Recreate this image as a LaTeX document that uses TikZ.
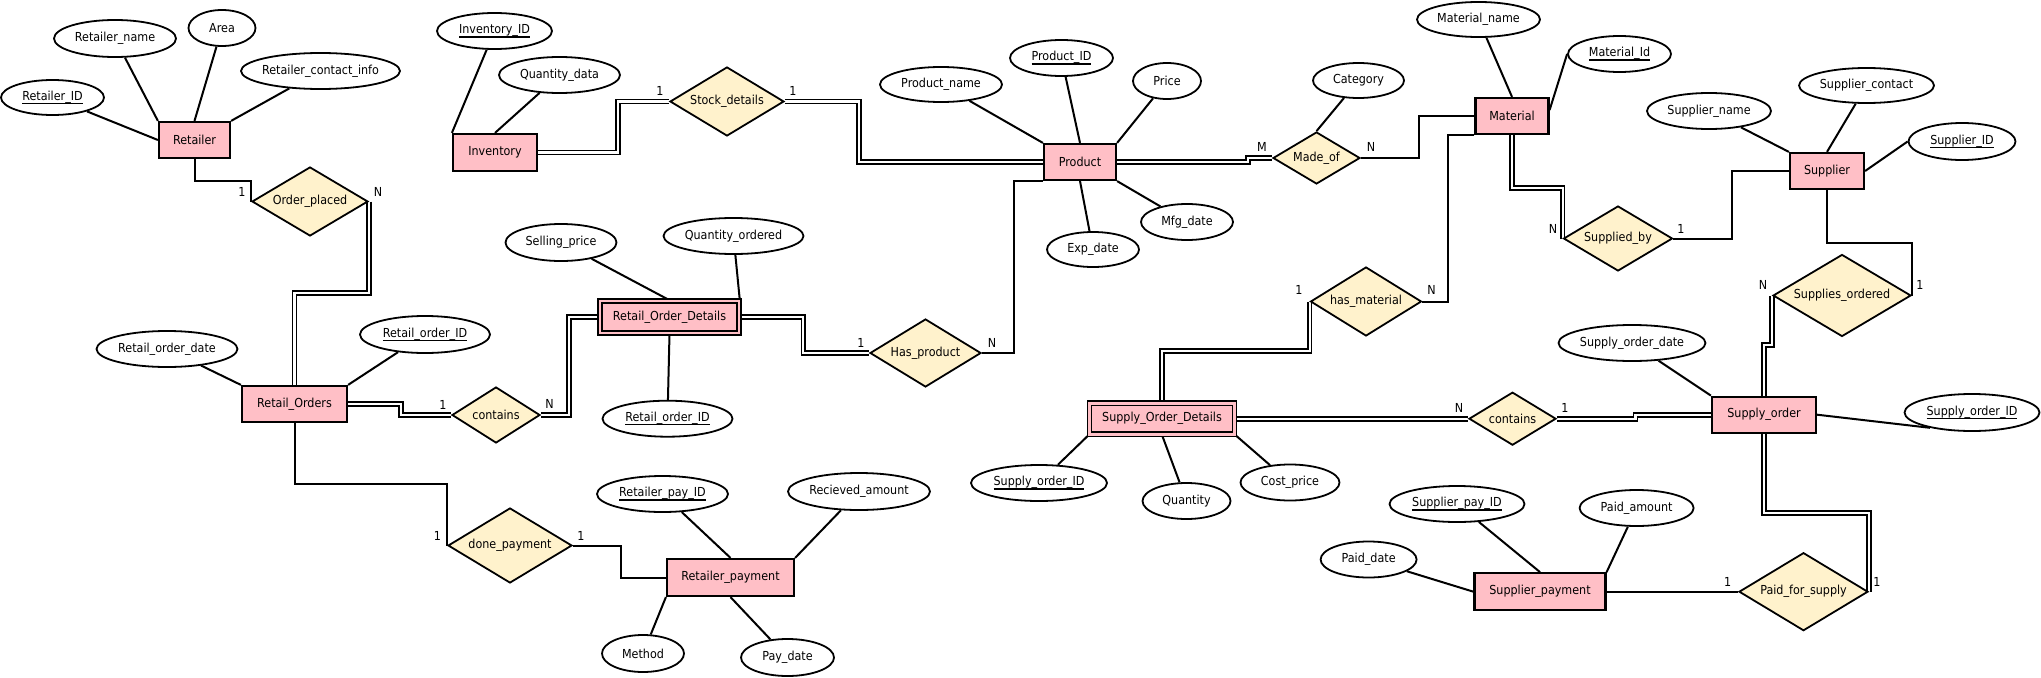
\documentclass[tikz,border=0pt]{standalone}
\usepackage{fontspec}
\setmainfont{DejaVu Sans}[FakeStretch=0.9]
\usetikzlibrary{shapes.geometric}
\definecolor{entpink}{HTML}{FFBFC6}
\definecolor{relyel}{HTML}{FFF2CC}
\newcommand\zb[1]{\makebox[0pt]{#1}}
\newsavebox\keybox
\newcommand\keyul[1]{\sbox\keybox{#1}\makebox[0pt][l]{\usebox\keybox}\rule[-4pt]{\wd\keybox}{1.3pt}}
\pgfdeclarelayer{back}
\pgfdeclarelayer{bg}
\pgfsetlayers{back,bg,main}
\begin{document}
\begin{tikzpicture}[x=1pt,y=-1pt,
  every node/.style={font=\fontsize{12.4pt}{14pt}\selectfont},
  sz/.style 2 args={minimum width=#1pt, minimum height=#2pt},
  ent/.style={rectangle, draw, fill=entpink, line width=2.2pt, inner sep=0pt},
  weak/.style={rectangle, draw, fill=entpink, double=entpink, double distance=2.6pt, line width=1.6pt, inner sep=0pt},
  attr/.style={ellipse, draw, fill=white, line width=1.8pt, inner sep=0pt},
  rel/.style={diamond, draw, fill=relyel, line width=1.8pt, inner sep=0pt, aspect=1},
  card/.style={inner sep=0pt},
  conn/.style={line width=2pt},
  dconn/.style={double, double distance=2.2pt, line width=1.7pt},
]
\useasboundingbox (0,0) rectangle (2041,677);
\begin{pgfonlayer}{back}
\fill[white] (0,0) rectangle (2041,677);
\end{pgfonlayer}

% ---------- entities ----------
\node[ent,sz={71}{36}] (ret) at (194.5,140) {Retailer};
\node[ent,sz={84}{37}] (inv) at (495,152.5) {Inventory};
\node[ent,sz={72}{36}] (prod) at (1080,162) {Product};
\node[ent,sz={73}{36}] (mat) at (1512,116) {Material};
\node[ent,sz={74}{36}] (sup) at (1827,171) {Supplier};
\node[ent,sz={105}{36}] (rord) at (294.5,404) {Retail\_Orders};
\node[weak,sz={139}{32}] (rod) at (669.5,317) {Retail\_Order\_Details};
\node[weak,sz={145}{31}] (sod) at (1162,418.7) {Supply\_Order\_Details};
\node[ent,sz={104}{36}] (sord) at (1764,414.7) {Supply\_order};
\node[ent,sz={127}{37}] (rpay) at (730.5,577.5) {Retailer\_payment};
\node[ent,sz={131}{37}] (spay) at (1540,591.7) {Supplier\_payment};

% ---------- relationships ----------
\node[rel,sz={116}{69}] (op) at (310,201.5) {\zb{Order\_placed}};
\node[rel,sz={114}{69}] (sd) at (727,101.5) {\zb{Stock\_details}};
\node[rel,sz={87}{52}] (mo) at (1316.5,158) {\zb{Made\_of}};
\node[rel,sz={109}{65}] (sb) at (1618,238.5) {\zb{Supplied\_by}};
\node[rel,sz={138}{82}] (so) at (1842,295.5) {\zb{Supplies\_ordered}};
\node[rel,sz={88}{56}] (c1) at (496,415) {\zb{contains}};
\node[rel,sz={111}{68}] (hp) at (925.5,353) {\zb{Has\_product}};
\node[rel,sz={111}{69}] (hm) at (1366,301.5) {\zb{has\_material}};
\node[rel,sz={87}{53}] (c2) at (1512.5,418.7) {\zb{contains}};
\node[rel,sz={124}{75}] (dp) at (510,545.5) {\zb{done\_payment}};
\node[rel,sz={129}{78}] (pfs) at (1803.5,591.7) {\zb{Paid\_for\_supply}};

% ---------- attributes ----------
\node[attr,sz={103}{35}] (arid) at (52.5,97.5) {\zb{\keyul{Retailer\_ID}}};
\node[attr,sz={122}{37}] (arname) at (115,38.5) {\zb{Retailer\_name}};
\node[attr,sz={67}{36}] (aarea) at (222,28) {\zb{Area}};
\node[attr,sz={159}{36}] (arci) at (320.5,71) {\zb{Retailer\_contact\_info}};
\node[attr,sz={115}{36}] (ainvid) at (494.5,31) {\zb{\keyul{Inventory\_ID}}};
\node[attr,sz={121}{36}] (aqd) at (559.5,75) {\zb{Quantity\_data}};
\node[attr,sz={122}{35}] (apname) at (941,84.5) {\zb{Product\_name}};
\node[attr,sz={103}{36}] (apid) at (1061.5,58) {\zb{\keyul{Product\_ID}}};
\node[attr,sz={68}{36}] (aprice) at (1167,81) {\zb{Price}};
\node[attr,sz={92}{36}] (amfg) at (1187,222) {\zb{Mfg\_date}};
\node[attr,sz={92}{35}] (aexp) at (1093,249.5) {\zb{Exp\_date}};
\node[attr,sz={123}{35}] (amname) at (1478.5,19.5) {\zb{Material\_name}};
\node[attr,sz={103}{36}] (amid) at (1619.5,54) {\zb{\keyul{Material\_Id}}};
\node[attr,sz={91}{35}] (acat) at (1358.5,80.5) {\zb{Category}};
\node[attr,sz={124}{36}] (asname) at (1709,111) {\zb{Supplier\_name}};
\node[attr,sz={135}{35}] (ascon) at (1866.5,85.5) {\zb{Supplier\_contact}};
\node[attr,sz={107}{37}] (asid) at (1962,141.5) {\zb{\keyul{Supplier\_ID}}};
\node[attr,sz={141}{36}] (arodate) at (167,349) {\zb{Retail\_order\_date}};
\node[attr,sz={130}{37}] (aroid) at (425,334.5) {\zb{\keyul{Retail\_order\_ID}}};
\node[attr,sz={111}{37}] (asp) at (561,242.5) {\zb{Selling\_price}};
\node[attr,sz={140}{36}] (aqo) at (733.5,236) {\zb{Quantity\_ordered}};
\node[attr,sz={130}{36}] (aroidb) at (667.5,418.7) {\zb{\keyul{Retail\_order\_ID}}};
\node[attr,sz={136}{36}] (asoid) at (1039,483) {\zb{\keyul{Supply\_order\_ID}}};
\node[attr,sz={88}{36}] (aqty) at (1186.5,501) {\zb{Quantity}};
\node[attr,sz={99}{36}] (acp) at (1290,482.5) {\zb{Cost\_price}};
\node[attr,sz={147}{36}] (asodate) at (1632,343) {\zb{Supply\_order\_date}};
\node[attr,sz={135}{37}] (asoidb) at (1972,412.5) {\zb{\keyul{Supply\_order\_ID}}};
\node[attr,sz={131}{36}] (arpid) at (662.5,494) {\zb{\keyul{Retailer\_pay\_ID}}};
\node[attr,sz={142}{37}] (aramt) at (859,491.5) {\zb{Recieved\_amount}};
\node[attr,sz={82}{37}] (ameth) at (643,653.5) {\zb{Method}};
\node[attr,sz={93}{37}] (apd) at (787.5,657.5) {\zb{Pay\_date}};
\node[attr,sz={135}{36}] (aspid) at (1457,504) {\zb{\keyul{Supplier\_pay\_ID}}};
\node[attr,sz={114}{36}] (apamt) at (1636.6,508) {\zb{Paid\_amount}};
\node[attr,sz={96}{36}] (apdate) at (1368.6,559.5) {\zb{Paid\_date}};

% ---------- cardinalities ----------
\node[card] (k1) at (242,192) {1};
\node[card] (k2) at (378,192) {N};
\node[card] (k3) at (660,91) {1};
\node[card] (k4) at (793,91) {1};
\node[card] (k5) at (1262,147) {M};
\node[card] (k6) at (1371,147) {N};
\node[card] (k7) at (1553,229) {N};
\node[card] (k8) at (1681,229) {1};
\node[card] (k9) at (1920,285) {1};
\node[card] (k10) at (1763,285) {N};
\node[card] (k11) at (1299,290) {1};
\node[card] (k12) at (1431.5,290) {N};
\node[card] (k13) at (443,405) {1};
\node[card] (k14) at (549.6,404) {N};
\node[card] (k15) at (861,343) {1};
\node[card] (k16) at (992,343) {N};
\node[card] (k17) at (1459,408) {N};
\node[card] (k18) at (1565,408) {1};
\node[card] (k19) at (437.5,536) {1};
\node[card] (k20) at (581,536) {1};
\node[card] (k21) at (1727.7,581.7) {1};
\node[card] (k22) at (1877,581.7) {1};

\begin{pgfonlayer}{bg}
% attribute links
\draw[conn] (arid) -- (ret.west);
\draw[conn] (arname) -- (ret.north west);
\draw[conn] (aarea) -- (ret.north);
\draw[conn] (arci) -- (ret.north east);
\draw[conn] (ainvid) -- (inv.north west);
\draw[conn] (aqd) -- (inv.north);
\draw[conn] (apname) -- (prod.north west);
\draw[conn] (apid) -- (prod.north);
\draw[conn] (aprice) -- (prod.north east);
\draw[conn] (amfg) -- (prod.south east);
\draw[conn] (aexp) -- (prod.south);
\draw[conn] (amname) -- (mat.north);
\draw[conn] (amid.west) -- ([yshift=6pt]mat.east);
\draw[conn] (acat) -- (mo.north);
\draw[conn] (asname) -- (sup.north west);
\draw[conn] (ascon) -- (sup.north);
\draw[conn] (asid.west) -- (sup.east);
\draw[conn] (arodate) -- (rord.north west);
\draw[conn] (aroid) -- (rord.north east);
\draw[conn] (asp) -- (rod.north);
\draw[conn] (aqo) -- (rod.north east);
\draw[conn] (aroidb) -- (rod.south);
\draw[conn] (asoid) -- (sod.south west);
\draw[conn] (aqty) -- (sod.south);
\draw[conn] (acp) -- (sod.south east);
\draw[conn] (asodate) -- (sord.north west);
\draw[conn] (asoidb.200) -- (sord.east);
\draw[conn] (arpid) -- (rpay.north);
\draw[conn] (aramt) -- (rpay.north east);
\draw[conn] (ameth) -- (rpay.south west);
\draw[conn] (apd) -- (rpay.south);
\draw[conn] (aspid) -- (spay.north);
\draw[conn] (apamt) -- (spay.north east);
\draw[conn] (apdate) -- (spay.west);
% relationship links
\draw[conn] (ret.south) -- ++(0,22) -| (op.west);
\draw[dconn] (op.east) -- ++(0,91.5) -| (rord.north);
\draw[dconn] (rord.east) -- ++(53,0) |- (c1.west);
\draw[dconn] (c1.east) -- ++(28,0) |- (rod.west);
\draw[dconn] (rod.east) -- ++(63.5,0) |- (hp.west);
\draw[conn] (hp.east) -- ++(32,0) |- (prod.south west);
\draw[dconn] (inv.east) -- ++(80,0) |- (sd.west);
\draw[dconn] (sd.east) -- ++(74,0) |- (prod.west);
\draw[dconn] (prod.east) -- ++(131,0) |- (mo.west);
\draw[conn] (mo.east) -- ++(58,0) |- (mat.west);
\draw[conn] (mat.south west) -- ++(-26.5,0) |- (hm.east);
\draw[dconn] (hm.west) -- ++(0,49.5) -| (sod.north);
\draw[dconn] (sod.east) -- (c2.west);
\draw[dconn] (c2.east) -- ++(78.6,0) |- (sord.west);
\draw[dconn] (mat.south) -- ++(0,53) -| (sb.west);
\draw[conn] (sb.east) -- ++(59,0) |- (sup.west);
\draw[conn] (sup.south) -- ++(0,53) -| (so.east);
\draw[dconn] (so.west) -- ++(0,49.5) -| (sord.north);
\draw[dconn] (sord.south) -- ++(0,79) -| (pfs.east);
\draw[conn] (spay.east) -- (pfs.west);
\draw[conn] (rord.south) -- ++(0,61) -| (dp.west);
\draw[conn] (dp.east) -- ++(48,0) |- (rpay.west);
\end{pgfonlayer}
\end{tikzpicture}
\end{document}
